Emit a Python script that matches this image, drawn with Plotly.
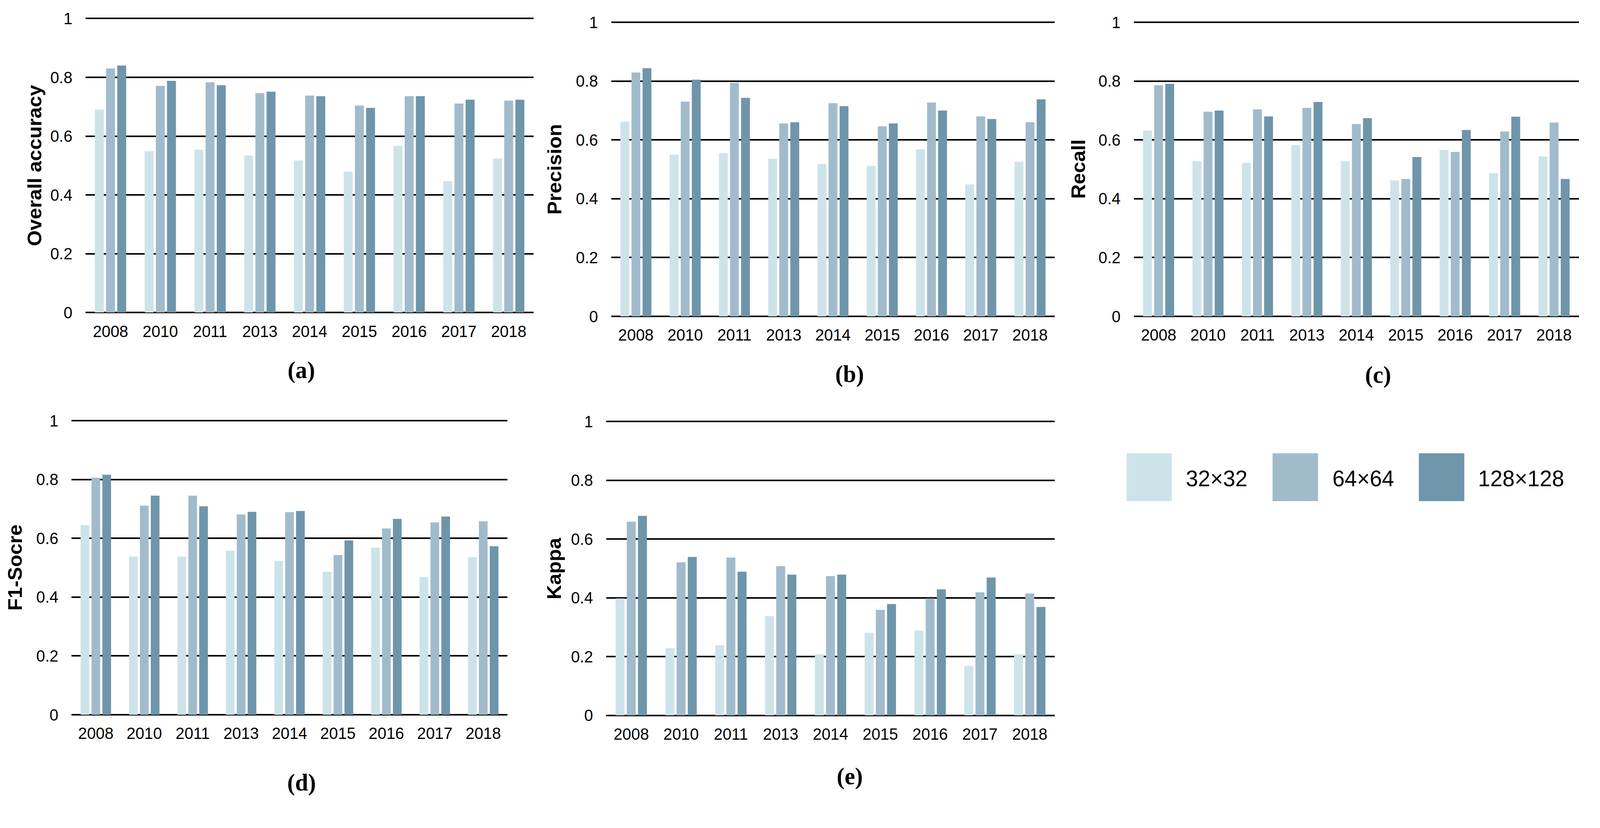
import plotly.graph_objects as go

# ---------------- data ----------------
years = ["2008", "2010", "2011", "2013", "2014", "2015", "2016", "2017", "2018"]
series_names = ["32×32", "64×64", "128×128"]
series_colors = ["#CDE3EA", "#A1BBCC", "#6F95AB"]

oa_32 = [0.690, 0.549, 0.554, 0.534, 0.517, 0.479, 0.567, 0.447, 0.524]
oa_64 = [0.830, 0.771, 0.783, 0.746, 0.738, 0.704, 0.736, 0.711, 0.721]
oa_128 = [0.840, 0.788, 0.773, 0.751, 0.736, 0.696, 0.736, 0.724, 0.724]

precision_32 = [0.662, 0.550, 0.555, 0.536, 0.518, 0.512, 0.568, 0.449, 0.526]
precision_64 = [0.829, 0.730, 0.794, 0.656, 0.725, 0.646, 0.727, 0.680, 0.660]
precision_128 = [0.844, 0.805, 0.743, 0.660, 0.715, 0.656, 0.700, 0.671, 0.738]

recall_32 = [0.632, 0.528, 0.522, 0.582, 0.528, 0.462, 0.566, 0.487, 0.544]
recall_64 = [0.786, 0.696, 0.704, 0.709, 0.654, 0.467, 0.559, 0.629, 0.659]
recall_128 = [0.791, 0.700, 0.680, 0.729, 0.674, 0.542, 0.634, 0.679, 0.467]

f1_32 = [0.645, 0.538, 0.538, 0.558, 0.523, 0.486, 0.568, 0.468, 0.536]
f1_64 = [0.806, 0.711, 0.745, 0.681, 0.689, 0.543, 0.633, 0.654, 0.658]
f1_128 = [0.816, 0.745, 0.709, 0.690, 0.693, 0.593, 0.666, 0.674, 0.573]

kappa_32 = [0.398, 0.229, 0.239, 0.338, 0.208, 0.281, 0.289, 0.169, 0.208]
kappa_64 = [0.659, 0.521, 0.537, 0.508, 0.474, 0.359, 0.398, 0.419, 0.415]
kappa_128 = [0.679, 0.539, 0.489, 0.479, 0.479, 0.379, 0.429, 0.469, 0.369]

y_tick_vals = [0, 0.2, 0.4, 0.6, 0.8, 1]
y_tick_text = ["0", "0.2", "0.4", "0.6", "0.8", "1"]

panel_titles = ["Overall accuracy", "Precision", "Recall", "F1-Socre", "Kappa"]
panel_letters = ["(a)", "(b)", "(c)", "(d)", "(e)"]
panel_values = [
    [oa_32, oa_64, oa_128],
    [precision_32, precision_64, precision_128],
    [recall_32, recall_64, recall_128],
    [f1_32, f1_64, f1_128],
    [kappa_32, kappa_64, kappa_128],
]

# ---------------- layout geometry (reference pixels) ----------------
W, H = 4222, 2120
YMAX = 1.004  # slightly above 1 so the top gridline is drawn
# plot areas: (x0, x1, y_of_value_1, y_of_value_0)
boxes = [
    (226, 1408, 51, 826),
    (1613, 2783, 61, 836),
    (2992, 4166, 61, 836),
    (189, 1339, 1111, 1886),
    (1600, 2783, 1113, 1888),
]
title_x = [92, 1463, 2846, 40, 1463]
letter_pos = [(795, 978), (2242, 988), (3636, 990), (796, 2065), (2242, 2048)]

TICK_FONT = dict(family="Liberation Sans, Arial, sans-serif", size=42, color="black")

fig = go.Figure()
layout = dict(
    width=W, height=H,
    margin=dict(l=0, r=0, t=0, b=0),
    paper_bgcolor="white", plot_bgcolor="white",
    barmode="group", bargap=0.326, bargroupgap=0.2,
    showlegend=False,
    annotations=[], shapes=[],
)

for i, (vals, box) in enumerate(zip(panel_values, boxes)):
    n = "" if i == 0 else str(i + 1)
    xa, ya = "x" + n, "y" + n
    for s in range(3):
        fig.add_trace(go.Bar(
            x=years, y=vals[s], name=series_names[s],
            marker=dict(color=series_colors[s], line=dict(width=0)),
            xaxis=xa, yaxis=ya, offsetgroup=str(s),
            showlegend=(i == 0),
        ))
    x0, x1, y1px, y0px = box
    ytop = y0px - (y0px - y1px) * YMAX
    layout["xaxis" + n] = dict(
        domain=[x0 / W, x1 / W], anchor=ya,
        type="category", range=[-0.5, len(years) - 0.5],
        showgrid=False, zeroline=False, showline=False, ticks="",
        tickfont=TICK_FONT, ticklabelstandoff=20, fixedrange=True,
    )
    layout["yaxis" + n] = dict(
        domain=[1 - y0px / H, 1 - ytop / H], anchor=xa,
        range=[0, YMAX], tickvals=y_tick_vals, ticktext=y_tick_text,
        showgrid=True, gridcolor="black", gridwidth=3.5,
        zeroline=True, zerolinecolor="black", zerolinewidth=3.5,
        showline=False, ticks="",
        tickfont=TICK_FONT, ticklabelstandoff=34, fixedrange=True,
    )
    layout["annotations"].append(dict(
        x=title_x[i] / W, y=1 - (y1px + y0px) / 2 / H, xref="paper", yref="paper",
        text=panel_titles[i], textangle=-90, showarrow=False,
        xanchor="center", yanchor="middle",
        font=dict(family="Liberation Sans, Arial, sans-serif", size=52, color="black", weight="bold"),
    ))
    lx, ly = letter_pos[i]
    layout["annotations"].append(dict(
        x=lx / W, y=1 - ly / H, xref="paper", yref="paper",
        text="<b>" + panel_letters[i] + "</b>", showarrow=False,
        xanchor="center", yanchor="middle",
        font=dict(family="Liberation Serif, Times New Roman, serif", size=62, color="black"),
    ))

# legend drawn as swatches + labels
legend_swatch_x = [(2973, 3092), (3358, 3478), (3744, 3864)]
legend_text_x = [3127, 3514, 3898]
legend_y = (1197, 1323)
for s in range(3):
    sx0, sx1 = legend_swatch_x[s]
    layout["shapes"].append(dict(
        type="rect", xref="paper", yref="paper",
        x0=sx0 / W, x1=sx1 / W, y0=1 - legend_y[1] / H, y1=1 - legend_y[0] / H,
        fillcolor=series_colors[s], line=dict(width=0),
    ))
    layout["annotations"].append(dict(
        x=legend_text_x[s] / W, y=1 - 1263 / H, xref="paper", yref="paper",
        text=series_names[s], showarrow=False, xanchor="left", yanchor="middle",
        font=dict(family="Liberation Sans, Arial, sans-serif", size=58, color="black"),
    ))

fig.update_layout(**layout)

# sit the figure flush in the window and fit it to the visible viewport
post_js = (
    "document.documentElement.style.margin='0';"
    "document.body.style.margin='0';"
    "document.body.style.overflow='hidden';"
    "var gd=document.getElementById('{plot_id}');"
    "var sx=Math.min(document.documentElement.clientWidth/%d,1);"
    "var sy=Math.min(document.documentElement.clientHeight/%d,1);"
    "if(!(sx>0))sx=1; if(!(sy>0))sy=1;"
    "sy=sy*0.992;"
    "gd.style.transformOrigin='0 0';"
    "gd.style.transform='translate(0px,-22px) scale('+sx+','+sy+')';"
) % (W, H)
fig.write_html("out.html", post_script=post_js, config={"displayModeBar": False})
